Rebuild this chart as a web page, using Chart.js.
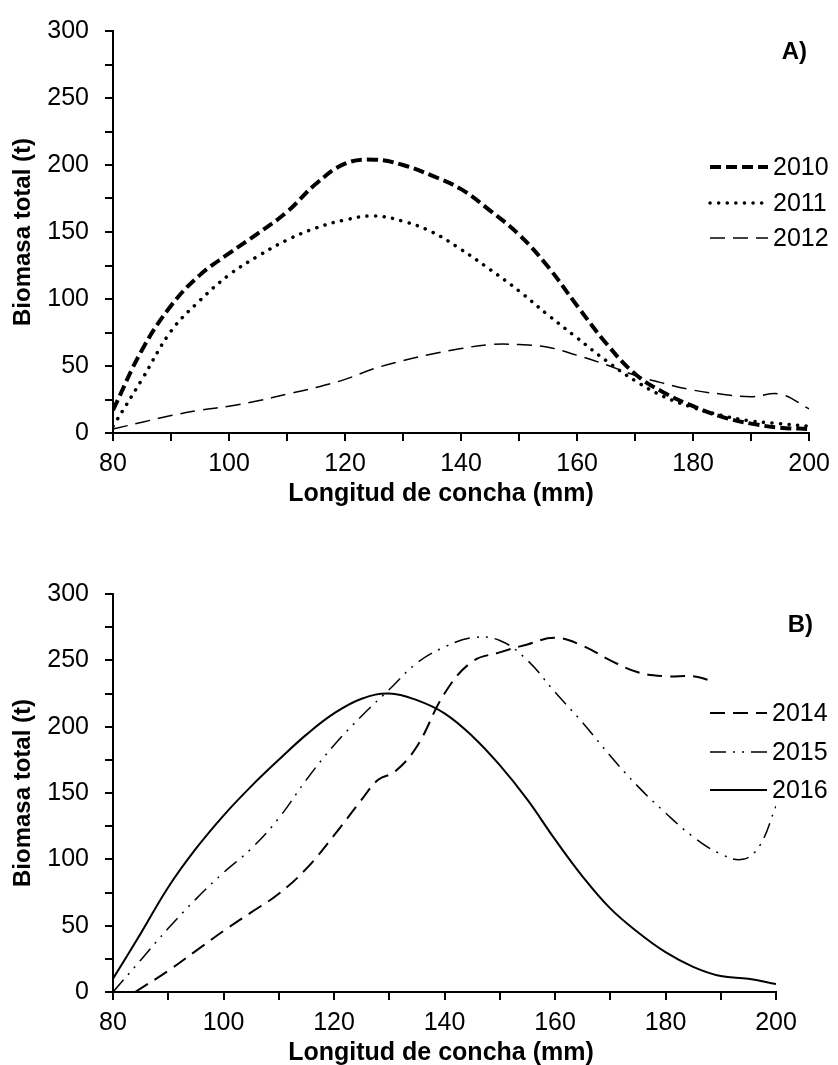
<!DOCTYPE html>
<html>
<head>
<meta charset="utf-8">
<script src="https://cdn.jsdelivr.net/npm/chart.js@4/dist/chart.umd.min.js"></script>
<style>
    body { margin: 0; background: #fff; }
    #wrap { position: relative; width: 838px; height: 1065px; }
    canvas { position: absolute; left: 0; }
    #chartA { top: 0; }
    #chartB { top: 530px; }
</style>
</head>
<body>
<div id="wrap">
    <canvas id="chartA" width="838" height="530"></canvas>
    <canvas id="chartB" width="838" height="535"></canvas>
</div>
<script>
// DATA

// panel A: shell length (mm) shared by the three years
const lengthsA = [80, 85, 90, 95, 100, 105, 110, 115, 120, 125, 130, 135, 140, 145, 150, 155, 160, 165, 170, 175, 180, 185, 190, 195, 200];
const biomass2010 = [17, 62, 95, 118, 134, 149, 165, 186, 201, 204, 200, 192, 182, 166, 148, 124, 95, 67, 44, 30, 20, 12, 7, 4, 3];
const biomass2011 = [5, 40, 76, 99, 118, 132, 144, 153, 159, 162, 158, 150, 137, 122, 106, 88, 71, 54, 39, 27, 19, 13, 9, 7, 5];
const biomass2012 = [3, 8, 13, 17, 20, 24, 29, 34, 40, 48, 54, 59, 63, 66, 66, 64, 58, 51, 43, 37, 32, 29, 27, 29, 18];

// panel B
const lengths2014 = [84, 90, 95, 100, 105, 110, 115, 120, 125, 128, 131, 135, 140, 145, 150, 155, 160, 165, 170, 175, 180, 185, 188];
const biomass2014 = [0, 16, 31, 46, 60, 74, 93, 118, 145, 160, 166, 185, 225, 249, 256, 262, 267, 261, 250, 241, 238, 238, 235];
const lengths2015 = [80, 85, 90, 95, 100, 105, 110, 115, 120, 125, 130, 135, 140, 145, 150, 155, 160, 165, 170, 175, 180, 185, 190, 194, 197, 200];
const biomass2015 = [0, 24, 48, 70, 90, 108, 131, 160, 186, 208, 228, 248, 260, 267, 265, 250, 226, 203, 178, 155, 135, 117, 104, 100, 110, 140];
const lengths2016 = [80, 85, 90, 95, 100, 105, 110, 115, 120, 125, 130, 135, 140, 145, 150, 155, 160, 165, 170, 175, 180, 185, 190, 195, 200];
const biomass2016 = [10, 44, 79, 108, 133, 155, 175, 194, 210, 221, 225, 220, 210, 193, 171, 145, 115, 87, 63, 45, 30, 19, 12, 10, 6];

// axis ticks
const xMin = 80, xMax = 200, xStep = 10, xLabelEvery = 20;
const yMin = 0, yMax = 300, yStep = 25, yLabelEvery = 50;

const FONT_FAMILY = '"Liberation Sans", Arial, Helvetica, sans-serif';

document.addEventListener('DOMContentLoaded', () => {

    function toPoints(xs, ys) {
        return xs.map((x, i) => ({ x: x, y: ys[i] }));
    }

    // ===================================================
    // PLUGIN: panel tag, x title and legend
    // ===================================================
    const panelDecor = {
        id: 'panelDecor',
        afterDraw(chart, args, opts) {
            const ctx = chart.ctx;
            ctx.save();
            ctx.fillStyle = '#000';
            ctx.textBaseline = 'middle';

            ctx.font = 'bold 24px ' + FONT_FAMILY;
            ctx.textAlign = 'right';
            ctx.fillText(opts.tag, opts.tagRight, opts.tagY);

            ctx.font = 'bold 25px ' + FONT_FAMILY;
            ctx.textAlign = 'center';
            ctx.fillText(opts.xTitle, opts.xTitleX, opts.xTitleY);

            ctx.font = '25px ' + FONT_FAMILY;
            ctx.textAlign = 'left';
            chart.data.datasets.forEach((ds, i) => {
                const y = opts.legendRows[i];
                ctx.save();
                ctx.strokeStyle = '#000';
                ctx.lineWidth = ds.borderWidth;
                ctx.lineCap = ds.borderCapStyle || 'butt';
                ctx.setLineDash(ds.borderDash || []);
                ctx.beginPath();
                ctx.moveTo(opts.legendX0, y);
                ctx.lineTo(opts.legendX1, y);
                ctx.stroke();
                ctx.restore();
                ctx.fillText(ds.label, opts.legendX1 + 5, y + 1);
            });
            ctx.restore();
        }
    };

    // ===================================================
    // SHARED SCALES
    // ===================================================
    function makeScales() {
        return {
            x: {
                type: 'linear',
                min: xMin,
                max: xMax,
                afterFit: s => { s.height = 60; },
                border: { color: '#000', width: 2 },
                grid: { drawOnChartArea: false, tickLength: 8, color: '#000', lineWidth: 2 },
                ticks: {
                    stepSize: xStep,
                    autoSkip: false,
                    maxRotation: 0,
                    padding: 8,
                    color: '#000',
                    font: { family: FONT_FAMILY, size: 25 },
                    callback: v => v % xLabelEvery === 0 ? v : ''
                }
            },
            y: {
                min: yMin,
                max: yMax,
                afterFit: s => { s.width = 113; },
                border: { color: '#000', width: 2 },
                grid: { drawOnChartArea: false, tickLength: 8, color: '#000', lineWidth: 2 },
                ticks: {
                    stepSize: yStep,
                    autoSkip: false,
                    padding: 16,
                    color: '#000',
                    font: { family: FONT_FAMILY, size: 25 },
                    callback: v => v % yLabelEvery === 0 ? v : ''
                },
                title: {
                    display: true,
                    text: 'Biomasa total (t)',
                    color: '#000',
                    font: { family: FONT_FAMILY, size: 24, weight: 'bold' },
                    padding: { top: 9, bottom: 0 }
                }
            }
        };
    }

    function line(label, xs, ys, width, dash, cap) {
        return {
            label: label,
            data: toPoints(xs, ys),
            borderColor: '#000',
            borderWidth: width,
            borderDash: dash,
            borderCapStyle: cap || 'butt',
            pointRadius: 0,
            tension: 0.4,
            fill: false
        };
    }

    // ===================================================
    // PANEL A
    // ===================================================
    new Chart(document.getElementById('chartA'), {
        type: 'line',
        data: {
            datasets: [
                line('2010', lengthsA, biomass2010, 4, [11, 5]),
                line('2011', lengthsA, biomass2011, 3.5, [0.1, 8.5], 'round'),
                line('2012', lengthsA, biomass2012, 1.5, [15, 8])
            ]
        },
        options: {
            responsive: false,
            animation: false,
            layout: { padding: { left: 0, right: 25, top: 27, bottom: 37 } },
            scales: makeScales(),
            plugins: {
                legend: { display: false },
                tooltip: { enabled: false },
                panelDecor: {
                    tag: 'A)', tagRight: 807, tagY: 52,
                    xTitle: 'Longitud de concha (mm)', xTitleX: 441, xTitleY: 494,
                    legendX0: 710, legendX1: 768, legendRows: [167, 203, 238]
                }
            }
        },
        plugins: [panelDecor]
    });

    // ===================================================
    // PANEL B
    // ===================================================
    new Chart(document.getElementById('chartB'), {
        type: 'line',
        data: {
            datasets: [
                line('2014', lengths2014, biomass2014, 2, [15, 8]),
                line('2015', lengths2015, biomass2015, 1.5, [16, 7, 2, 7, 2, 7]),
                line('2016', lengths2016, biomass2016, 2, [])
            ]
        },
        options: {
            responsive: false,
            animation: false,
            layout: { padding: { left: 0, right: 62, top: 64, bottom: 13 } },
            scales: makeScales(),
            plugins: {
                legend: { display: false },
                tooltip: { enabled: false },
                panelDecor: {
                    tag: 'B)', tagRight: 813, tagY: 95,
                    xTitle: 'Longitud de concha (mm)', xTitleX: 441, xTitleY: 523,
                    legendX0: 710, legendX1: 767, legendRows: [183, 222, 260]
                }
            }
        },
        plugins: [panelDecor]
    });

});
</script>
</body>
</html>
